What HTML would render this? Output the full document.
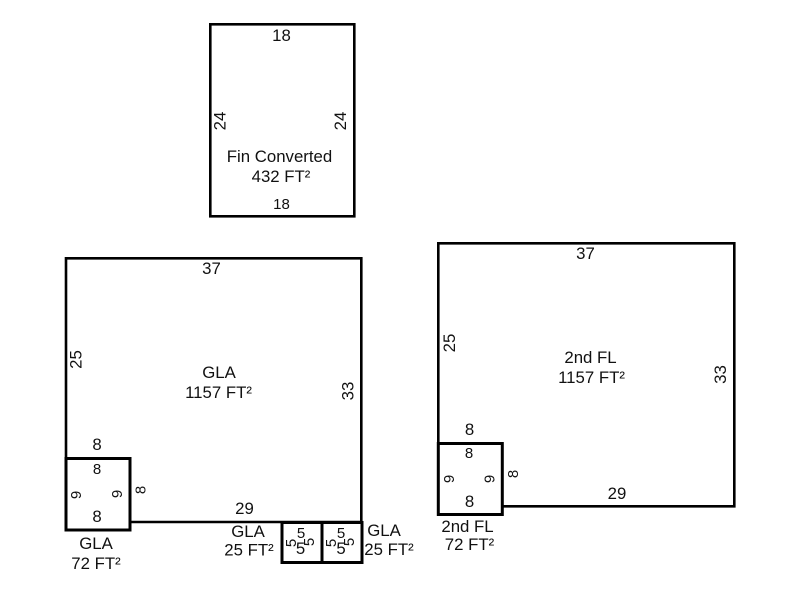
<!DOCTYPE html>
<html>
<head>
<meta charset="utf-8">
<style>
html,body{margin:0;padding:0;background:#fff;width:800px;height:600px;overflow:hidden}
svg{display:block}
text{font-family:"Liberation Sans",Arial,sans-serif;fill:#111;text-anchor:middle}
.a{font-size:16.8px}
.b{font-size:15px}
.c{font-size:15px}
.s{fill:none;stroke:#000;stroke-width:2.6}
.t{fill:none;stroke:#000;stroke-width:3}
</style>
</head>
<body>
<svg width="800" height="600" viewBox="0 0 800 600" xmlns="http://www.w3.org/2000/svg">
<rect width="800" height="600" fill="#fff"/>
<rect class="s" x="210.300" y="24.300" width="144" height="192"/>
<path class="s" d="M66 458V258.300H361.300V522H130"/>
<rect class="t" x="66" y="458.500" width="64" height="71.500"/>
<rect class="t" x="282" y="522.500" width="40" height="40"/>
<rect class="t" x="322" y="522.500" width="40" height="40"/>
<path class="s" d="M438.300 443V243.300H734.300V506.300H502"/>
<rect class="t" x="438.300" y="443.500" width="64" height="71"/>

<text class="a" x="281.500" y="41">18</text>
<text class="c" x="281.500" y="209">18</text>
<text class="a" transform="translate(225.500 121) rotate(-90)">24</text>
<text class="a" transform="translate(346 121) rotate(-90)">24</text>
<text class="a" x="279.500" y="162">Fin Converted</text>
<text class="a" x="281" y="182">432 FT²</text>

<text class="a" x="211.500" y="274">37</text>
<text class="a" transform="translate(81.500 359.500) rotate(-90)">25</text>
<text class="a" transform="translate(353.500 391) rotate(-90)">33</text>
<text class="a" x="219" y="378">GLA</text>
<text class="a" x="218.500" y="398">1157 FT²</text>
<text class="a" x="97" y="450">8</text>
<text class="c" x="97" y="474">8</text>
<text class="a" x="97" y="522">8</text>
<text class="c" transform="translate(81 495) rotate(-90)">9</text>
<text class="c" transform="translate(122 494) rotate(-90)">9</text>
<text class="c" transform="translate(145.500 490) rotate(-90)">8</text>
<text class="a" x="244.500" y="514">29</text>
<text class="a" x="96" y="549">GLA</text>
<text class="a" x="96" y="569">72 FT²</text>

<text class="a" x="248" y="537">GLA</text>
<text class="a" x="249" y="555.500">25 FT²</text>
<text class="a" x="384" y="536">GLA</text>
<text class="a" x="389" y="555">25 FT²</text>
<text class="c" x="301" y="538">5</text>
<text class="a" x="300.500" y="554">5</text>
<text class="c" transform="translate(296 543) rotate(-90)">5</text>
<text class="c" transform="translate(314 542) rotate(-90)">5</text>
<text class="c" x="341" y="538">5</text>
<text class="a" x="341" y="554">5</text>
<text class="c" transform="translate(336 543) rotate(-90)">5</text>
<text class="c" transform="translate(354 542) rotate(-90)">5</text>

<text class="a" x="585.500" y="259">37</text>
<text class="a" transform="translate(455 343) rotate(-90)">25</text>
<text class="a" transform="translate(726 374.500) rotate(-90)">33</text>
<text class="a" x="590.500" y="363">2nd FL</text>
<text class="a" x="591.500" y="383">1157 FT²</text>
<text class="a" x="469.500" y="435">8</text>
<text class="c" x="469" y="458">8</text>
<text class="a" x="469.500" y="507">8</text>
<text class="c" transform="translate(454 479) rotate(-90)">9</text>
<text class="c" transform="translate(494.500 479) rotate(-90)">9</text>
<text class="c" transform="translate(518 474) rotate(-90)">8</text>
<text class="a" x="617" y="499">29</text>
<text class="a" x="467.500" y="532">2nd FL</text>
<text class="a" x="469.500" y="550">72 FT²</text>
</svg>
</body>
</html>
